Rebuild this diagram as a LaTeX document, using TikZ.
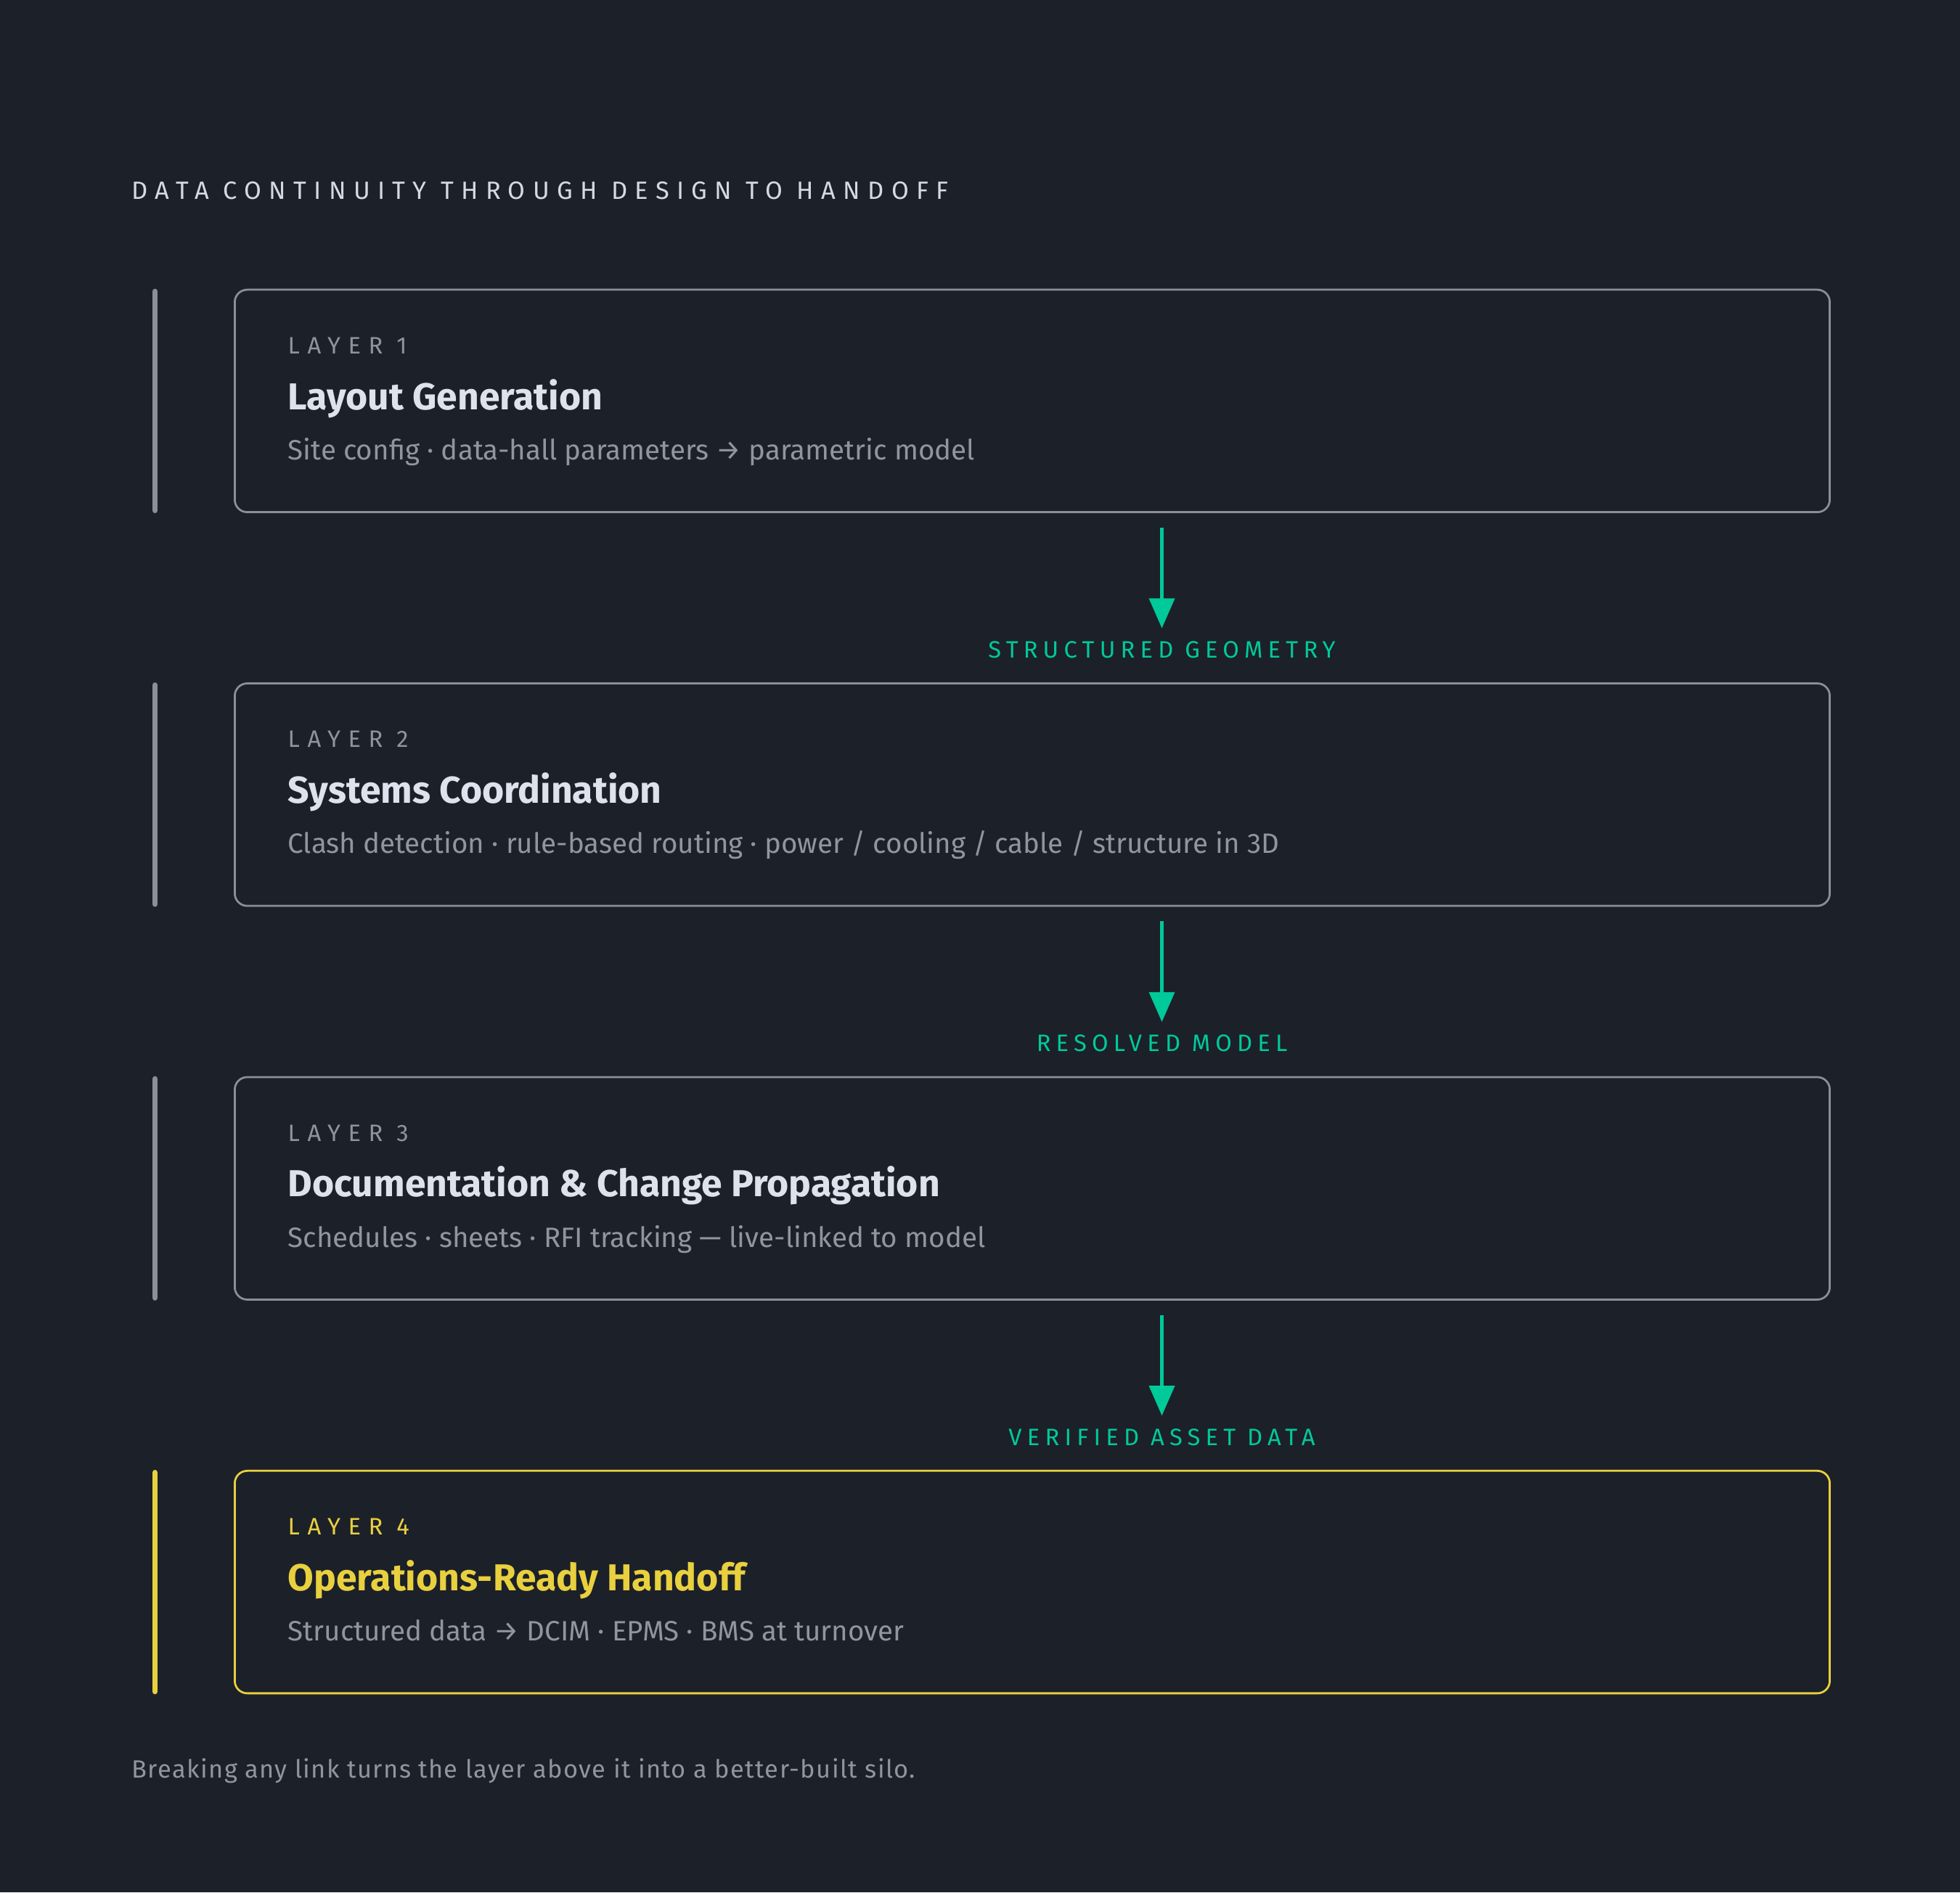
\documentclass[tikz,border=0pt]{standalone}
\usepackage{fontspec}
\setmainfont{Fira Sans}
\newfontfamily\capsfont[LetterSpace=22]{Fira Sans}
\newfontfamily\widecapsfont[LetterSpace=32]{Fira Sans}
\newfontfamily\headcapsfont[LetterSpace=30]{Fira Sans}
\newfontfamily\notefont[LetterSpace=4]{Fira Sans}
\usetikzlibrary{arrows.meta}

\definecolor{bgdark}{HTML}{1C2029}
\definecolor{edgegray}{HTML}{8A8F99}
\definecolor{capgray}{HTML}{8E939D}
\definecolor{headwhite}{HTML}{D5D9E3}
\definecolor{titlewhite}{HTML}{DDE2EC}
\definecolor{descgray}{HTML}{90959F}
\definecolor{flowgreen}{HTML}{00C99A}
\definecolor{handyellow}{HTML}{E8D03F}

\begin{document}
\begin{tikzpicture}[x=0.5pt,y=0.5pt,
    layerbox/.style={draw=edgegray, line width=0.8pt, rounded corners=5pt,
      minimum width=638pt, minimum height=89pt, inner sep=0pt, anchor=north west},
    rail/.style={draw=edgegray, line width=2.2pt, line cap=round},
    tag/.style={anchor=base west, inner sep=0pt, text=capgray,
      font=\widecapsfont\fontsize{9.5}{11}\selectfont},
    heading/.style={anchor=base west, inner sep=0pt, text=titlewhite,
      font=\fontsize{15}{18}\selectfont\bfseries},
    desc/.style={anchor=base west, inner sep=0pt, text=descgray,
      font=\fontsize{11.2}{14}\selectfont},
    flow/.style={draw=flowgreen, line width=1.6pt, -{Triangle[length=12pt,width=10pt]}},
    flowlabel/.style={anchor=base, inner sep=0pt, text=flowgreen,
      font=\capsfont\fontsize{9.5}{11}\selectfont}]

    \fill [bgdark] (0,0) rectangle (1568,1514);
    \useasboundingbox (0,0) rectangle (1568,1514);

    \node [anchor=base west, inner sep=0pt, text=headwhite, font=\headcapsfont\fontsize{10}{12}\selectfont]
      (title) at (105,1354.3) {DATA CONTINUITY THROUGH DESIGN TO HANDOFF};

    % the four layers
    \node [layerbox] (l1) at (187,1283) {};
    \node [layerbox] (l2) at (187,968) {};
    \node [layerbox] (l3) at (187,653) {};
    \node [layerbox, draw=handyellow] (l4) at (187,338) {};

    \draw [rail] ([xshift=-31.5pt,yshift=-1.1pt]l1.north west) -- ([xshift=-31.5pt,yshift=1.1pt]l1.south west);
    \draw [rail] ([xshift=-31.5pt,yshift=-1.1pt]l2.north west) -- ([xshift=-31.5pt,yshift=1.1pt]l2.south west);
    \draw [rail] ([xshift=-31.5pt,yshift=-1.1pt]l3.north west) -- ([xshift=-31.5pt,yshift=1.1pt]l3.south west);
    \draw [rail, draw=handyellow] ([xshift=-31.5pt,yshift=-1.1pt]l4.north west) -- ([xshift=-31.5pt,yshift=1.1pt]l4.south west);

    \node [tag] (t1) at ([xshift=21.5pt,yshift=-26pt]l1.north west) {LAYER 1};
    \node [heading] (h1) at ([xshift=21.5pt,yshift=-48.3pt]l1.north west) {Layout Generation};
    \node [desc] (d1) at ([xshift=21.5pt,yshift=-68.4pt]l1.north west) {Site config · data-hall parameters → parametric model};

    \node [tag] (t2) at ([xshift=21.5pt,yshift=-26pt]l2.north west) {LAYER 2};
    \node [heading] (h2) at ([xshift=21.5pt,yshift=-48.3pt]l2.north west) {Systems Coordination};
    \node [desc] (d2) at ([xshift=21.5pt,yshift=-68.4pt]l2.north west) {Clash detection · rule-based routing · power / cooling / cable / structure in 3D};

    \node [tag] (t3) at ([xshift=21.5pt,yshift=-26pt]l3.north west) {LAYER 3};
    \node [heading] (h3) at ([xshift=21.5pt,yshift=-48.3pt]l3.north west) {Documentation \& Change Propagation};
    \node [desc] (d3) at ([xshift=21.5pt,yshift=-68.4pt]l3.north west) {Schedules · sheets · RFI tracking — live-linked to model};

    \node [tag, text=handyellow] (t4) at ([xshift=21.5pt,yshift=-26pt]l4.north west) {LAYER 4};
    \node [heading, text=handyellow] (h4) at ([xshift=21.5pt,yshift=-48.3pt]l4.north west) {Operations-Ready Handoff};
    \node [desc] (d4) at ([xshift=21.5pt,yshift=-68.4pt]l4.north west) {Structured data → DCIM · EPMS · BMS at turnover};

    % hand-over arrows
    \node [flowlabel] (f1) at (929.5,987.5) {STRUCTURED GEOMETRY};
    \node [flowlabel] (f2) at (929.5,672.5) {RESOLVED MODEL};
    \node [flowlabel] (f3) at (929.5,357.5) {VERIFIED ASSET DATA};

    \draw [flow] ([yshift=-5.75pt]l1.south -| f1.north) -- ([yshift=5pt]f1.north);
    \draw [flow] ([yshift=-5.75pt]l2.south -| f2.north) -- ([yshift=5pt]f2.north);
    \draw [flow] ([yshift=-5.75pt]l3.south -| f3.north) -- ([yshift=5pt]f3.north);

    \node [anchor=base west, inner sep=0pt, text=descgray, font=\notefont\fontsize{10}{12}\selectfont]
      (note) at (105,91.3) {Breaking any link turns the layer above it into a better-built silo.};

\end{tikzpicture}
\end{document}
